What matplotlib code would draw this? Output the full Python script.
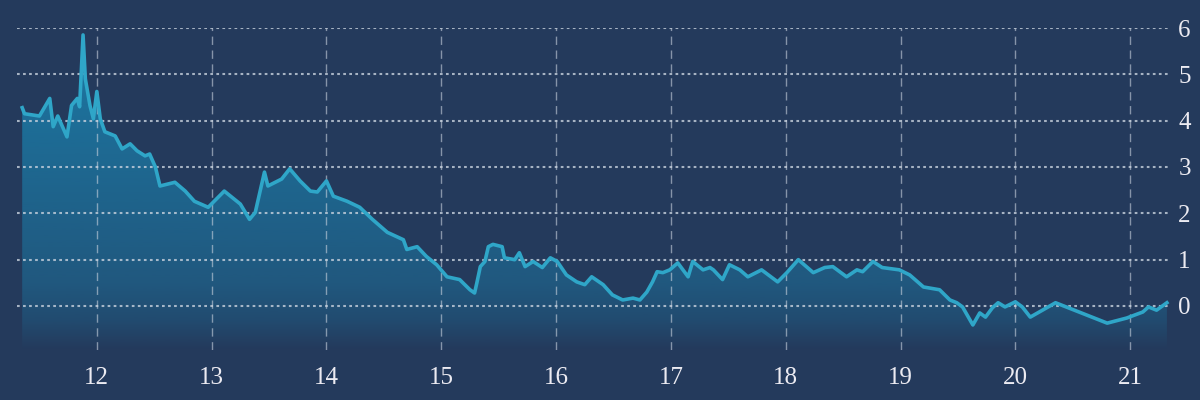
import matplotlib.pyplot as plt
import numpy as np
from matplotlib.colors import to_rgb

# decimal year, value
years = [11.35, 11.37, 11.50, 11.59, 11.62, 11.66, 11.74, 11.78, 11.83, 11.85,
         11.88, 11.90, 11.94, 11.97, 12.00, 12.03, 12.07, 12.16, 12.22, 12.29,
         12.35, 12.42, 12.46, 12.51, 12.55, 12.68, 12.77, 12.85, 12.97, 13.11,
         13.25, 13.33, 13.38, 13.46, 13.49, 13.61, 13.68, 13.77, 13.86, 13.92,
         14.00, 14.06, 14.18, 14.29, 14.40, 14.53, 14.67, 14.70, 14.79, 14.87,
         14.96, 15.05, 15.16, 15.25, 15.29, 15.31, 15.34, 15.38, 15.41, 15.45,
         15.53, 15.55, 15.64, 15.68, 15.73, 15.80, 15.88, 15.95, 16.01, 16.09,
         16.18, 16.25, 16.31, 16.41, 16.49, 16.58, 16.67, 16.73, 16.79, 16.84,
         16.88, 16.93, 16.99, 17.06, 17.15, 17.19, 17.28, 17.34, 17.37, 17.45,
         17.51, 17.60, 17.67, 17.79, 17.93, 18.01, 18.11, 18.24, 18.34, 18.41,
         18.53, 18.62, 18.67, 18.76, 18.84, 18.99, 19.08, 19.20, 19.34, 19.43,
         19.49, 19.54, 19.63, 19.69, 19.74, 19.80, 19.85, 19.91, 20.00, 20.06,
         20.13, 20.35, 20.80, 20.97, 21.11, 21.16, 21.23, 21.32]
values = [4.28, 4.15, 4.10, 4.48, 3.87, 4.10, 3.65, 4.33, 4.48, 4.30,
          5.85, 4.90, 4.33, 4.04, 4.63, 4.04, 3.76, 3.67, 3.39, 3.50,
          3.35, 3.24, 3.28, 3.00, 2.59, 2.67, 2.48, 2.26, 2.13, 2.48,
          2.20, 1.87, 2.02, 2.89, 2.59, 2.74, 2.96, 2.70, 2.48, 2.46,
          2.70, 2.37, 2.26, 2.13, 1.87, 1.59, 1.43, 1.22, 1.28, 1.07,
          0.89, 0.63, 0.57, 0.35, 0.28, 0.50, 0.85, 0.96, 1.28, 1.33,
          1.28, 1.04, 1.00, 1.15, 0.85, 0.96, 0.83, 1.04, 0.96, 0.67,
          0.52, 0.46, 0.63, 0.46, 0.24, 0.13, 0.17, 0.13, 0.30, 0.52,
          0.74, 0.72, 0.78, 0.93, 0.63, 0.96, 0.78, 0.83, 0.78, 0.57,
          0.89, 0.78, 0.63, 0.78, 0.52, 0.72, 1.00, 0.72, 0.83, 0.85,
          0.63, 0.78, 0.74, 0.96, 0.83, 0.78, 0.67, 0.41, 0.35, 0.13,
          0.07, -0.02, -0.41, -0.15, -0.24, -0.04, 0.07, -0.02, 0.09, -0.02,
          -0.24, 0.07, -0.37, -0.26, -0.13, -0.02, -0.09, 0.07]

xticks = [12, 13, 14, 15, 16, 17, 18, 19, 20, 21]
yticks = [0, 1, 2, 3, 4, 5, 6]

BG = '#243a5c'
LINE = '#2fa6c8'
FILL = '#1a8ab8'
TXT = '#ecebf2'

fig = plt.figure(figsize=(12, 4), dpi=100, facecolor=BG)
ax = fig.add_axes([0.014, 0.125, 0.961, 0.805], facecolor=BG)

x0, x1 = 11.303, 21.347
y0, y1 = -0.95, 6.0
ax.set_xlim(x0, x1)
ax.set_ylim(y0, y1)

# gradient fill under the line, fading out below zero
yy = np.linspace(y1, y0, 300)
alpha = np.interp(yy, [-0.95, -0.3, 0.5, 6], [0, 0.22, 0.38, 0.8])
grad = np.zeros((300, 1, 4))
grad[:, 0, :3] = to_rgb(FILL)
grad[:, 0, 3] = alpha
poly = ax.fill_between(years, values, y0, color='none', lw=0)
img = ax.imshow(grad, extent=[x0, x1, y0, y1], aspect='auto', zorder=1)
img.set_clip_path(poly.get_paths()[0], transform=ax.transData)

ax.plot(years, values, color=LINE, lw=2.6, zorder=3, solid_joinstyle='round')

# grid
for t in yticks:
    ax.axhline(t, color='#c9d2de', lw=1.5, ls=(0, (1.3, 1.6)), alpha=0.8, zorder=2)
for t in xticks:
    ax.axvline(t, color='#c9d2de', lw=1.0, ls=(0, (6, 4)), alpha=0.6, zorder=2)

ax.set_xticks(xticks)
ax.set_yticks(yticks)
ax.yaxis.tick_right()
ax.tick_params(length=0, colors=TXT, labelsize=18)
ax.tick_params(axis='x', pad=12)
ax.tick_params(axis='y', pad=6)
for lab in ax.get_xticklabels() + ax.get_yticklabels():
    lab.set_family('Liberation Serif')

for s in ax.spines.values():
    s.set_visible(False)

fig.savefig('out.png', facecolor=BG)
